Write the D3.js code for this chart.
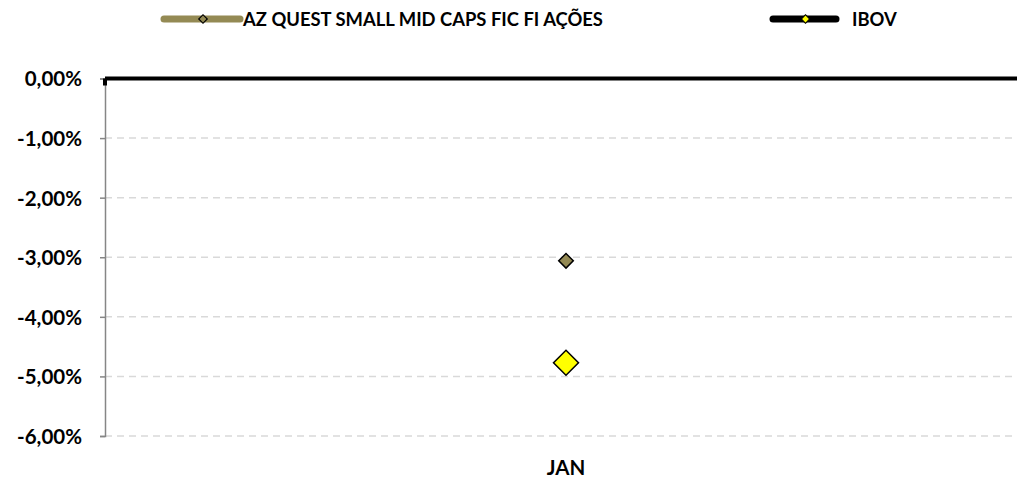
<!DOCTYPE html>
<html>
<head>
<meta charset="utf-8">
<script src="https://cdn.jsdelivr.net/npm/d3@7"></script>
<style>
  body { margin: 0; background: #fff; }
  text { font-family: Lato, "Open Sans", sans-serif; font-weight: bold; fill: #000; }
  .grid line { stroke: #d9d9d9; stroke-width: 1.5; stroke-dasharray: 7 5; }
</style>
</head>
<body>
<div id="chart"></div>
<script>
// chart data
const categories = ['JAN'];
const seriesNames = ['AZ QUEST SMALL MID CAPS FIC FI AÇÕES', 'IBOV'];
const azQuestValues = [-3.06];
const ibovValues = [-4.77];
const yTicks = [0, -1, -2, -3, -4, -5, -6];

class ReturnChart {

  constructor(_config) {
    this.config = {
      parentElement: _config.parentElement,
      containerWidth: 1017,
      containerHeight: 481,
      plot: {left: 105, right: 1027, top: 78.5, bottom: 436},
      colors: ['#948a54', '#000000'],
      markerFill: ['#948a54', '#ffff00']
    };
    this.initVis();
  }

  initVis() {
    let vis = this;
    const p = vis.config.plot;

    vis.svg = d3.select(vis.config.parentElement).append('svg')
        .attr('width', vis.config.containerWidth)
        .attr('height', vis.config.containerHeight);

    vis.xScale = d3.scaleBand()
        .domain(categories)
        .range([p.left, p.right]);

    vis.yScale = d3.scaleLinear()
        .domain([d3.min(yTicks), d3.max(yTicks)])
        .range([p.bottom, p.top]);

    const ptBR = d3.formatLocale({decimal: ',', thousands: '.', grouping: [3], currency: ['R$', ''], minus: '-'});
    const fmt = ptBR.format('.2f');

    // dashed gridlines
    vis.svg.append('g')
        .attr('class', 'grid')
        .selectAll('line')
        .data(yTicks.filter(d => d !== 0))
        .join('line')
        .attr('x1', p.left)
        .attr('x2', p.right)
        .attr('y1', d => vis.yScale(d))
        .attr('y2', d => vis.yScale(d));

    // y axis
    vis.yAxis = d3.axisLeft(vis.yScale)
        .tickValues(yTicks)
        .tickSize(5)
        .tickPadding(18)
        .tickFormat(d => fmt(d) + '%');

    vis.yAxisG = vis.svg.append('g')
        .attr('transform', `translate(${p.left},0)`)
        .call(vis.yAxis)
        .call(g => g.select('.domain').attr('stroke', '#868686').attr('stroke-width', 1.5))
        .call(g => g.selectAll('.tick line').attr('stroke', '#868686').attr('stroke-width', 1.5))
        .call(g => g.selectAll('.tick text').attr('font-size', 20.5).attr('font-family', null).attr('dy', '0.36em'));

    // category axis at zero: thick black line
    vis.svg.append('line')
        .attr('x1', p.left)
        .attr('x2', p.right)
        .attr('y1', vis.yScale(0))
        .attr('y2', vis.yScale(0))
        .attr('stroke', '#000')
        .attr('stroke-width', 4);

    vis.svg.append('rect')
        .attr('x', p.left - 2)
        .attr('y', vis.yScale(0))
        .attr('width', 4)
        .attr('height', 7)
        .attr('fill', '#000');

    // category labels (low position)
    vis.xAxis = d3.axisBottom(vis.xScale)
        .tickSize(0)
        .tickPadding(0);

    vis.svg.append('g')
        .attr('transform', `translate(0,${p.bottom + 24})`)
        .call(vis.xAxis)
        .call(g => g.select('.domain').remove())
        .call(g => g.selectAll('.tick text').attr('font-size', 20.5).attr('font-family', null).attr('dy', '0.72em'));

    vis.renderVis();
    vis.renderLegend();
  }

  renderVis() {
    let vis = this;
    const series = [azQuestValues, ibovValues];
    const sizes = [106, 312];

    series.forEach((values, i) => {
      vis.svg.append('g')
          .selectAll('path')
          .data(values)
          .join('path')
          .attr('d', d3.symbol(d3.symbolSquare, sizes[i]))
          .attr('transform', (d, j) => `translate(${vis.xScale(categories[j]) + vis.xScale.bandwidth() / 2},${vis.yScale(d)}) rotate(45)`)
          .attr('fill', vis.config.markerFill[i])
          .attr('stroke', '#000')
          .attr('stroke-width', 1.5);
    });
  }

  renderLegend() {
    let vis = this;
    const items = [
      {x1: 164, x2: 240, tx: 243},
      {x1: 773, x2: 836, tx: 852}
    ];

    items.forEach((it, i) => {
      const g = vis.svg.append('g');
      g.append('line')
          .attr('x1', it.x1)
          .attr('x2', it.x2)
          .attr('y1', 19)
          .attr('y2', 19)
          .attr('stroke', vis.config.colors[i])
          .attr('stroke-width', 7)
          .attr('stroke-linecap', 'round');
      g.append('path')
          .attr('d', d3.symbol(d3.symbolSquare, 36))
          .attr('transform', `translate(${(it.x1 + it.x2) / 2 + 1},19) rotate(45)`)
          .attr('fill', vis.config.markerFill[i])
          .attr('stroke', '#000')
          .attr('stroke-width', 1.2);
      g.append('text')
          .attr('x', it.tx)
          .attr('y', 19)
          .attr('dy', '0.36em')
          .attr('font-size', 18.4)
          .text(seriesNames[i]);
    });
  }
}

const chart = new ReturnChart({parentElement: '#chart'});
</script>
</body>
</html>
